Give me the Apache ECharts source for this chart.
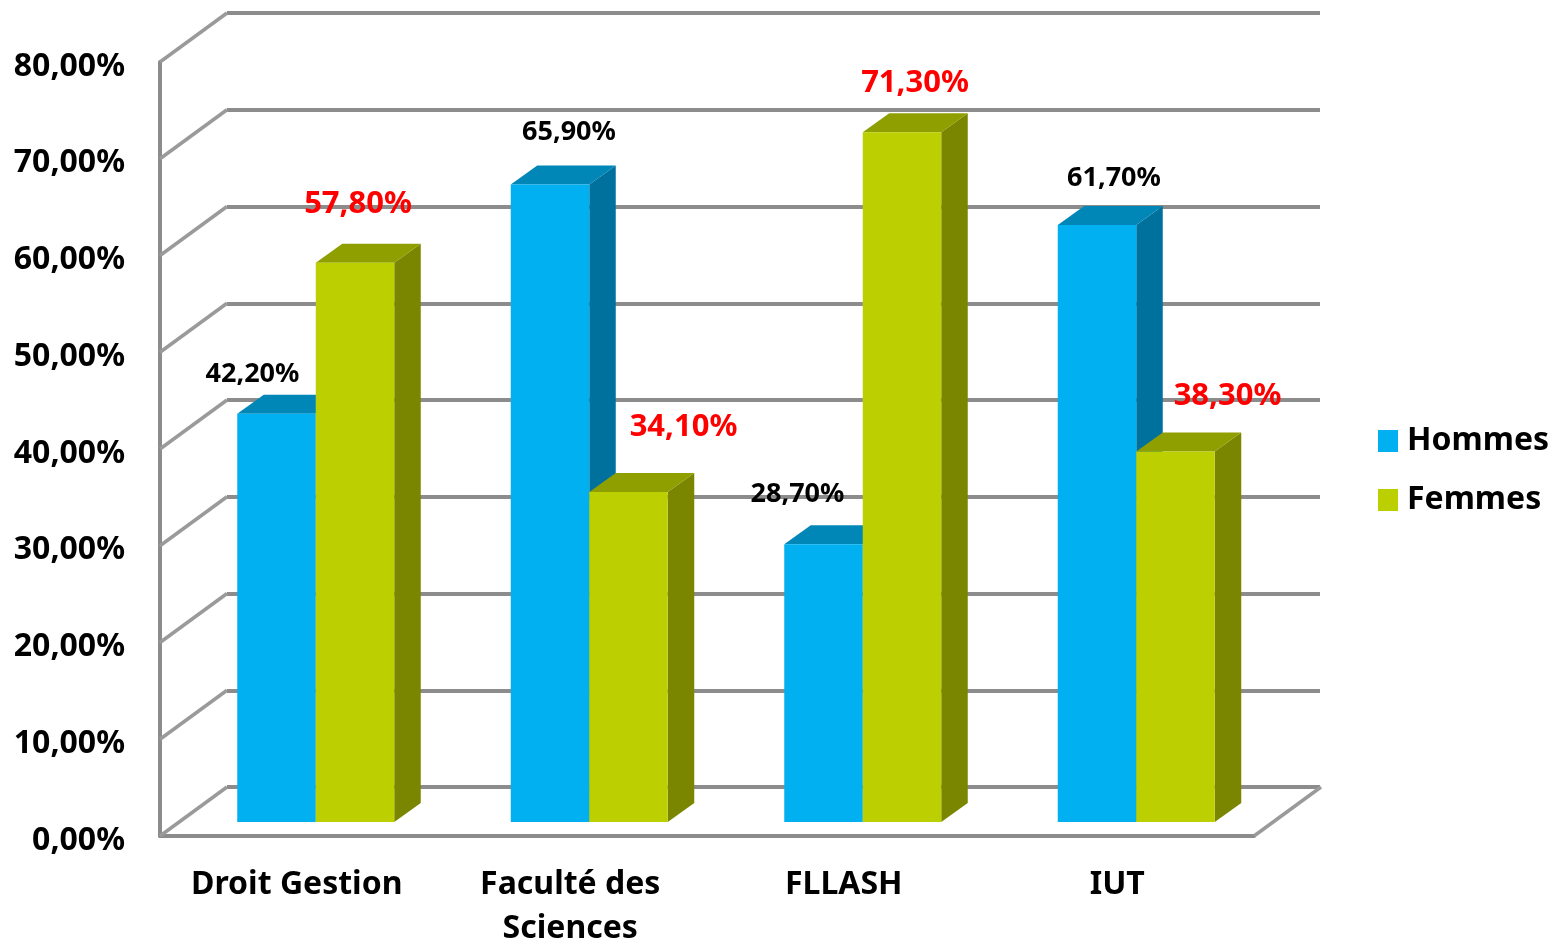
<!DOCTYPE html>
<html>
<head>
<meta charset="utf-8">
<style>
  html, body { margin: 0; padding: 0; background: #fff; }
  #chart { width: 1556px; height: 942px; }
</style>
<script src="https://cdn.jsdelivr.net/npm/echarts@6/dist/echarts.min.js"></script>
</head>
<body>
<div id="chart"></div>
<script>
const categories = ['Droit Gestion', 'Faculté des\nSciences', 'FLLASH', 'IUT'];
const hommes = [42.2, 65.9, 28.7, 61.7];
const femmes = [57.8, 34.1, 71.3, 38.3];
const yTicks = [0, 10, 20, 30, 40, 50, 60, 70, 80];

const FONT = '"Noto Sans", sans-serif';
const percent = v => v.toFixed(2).replace('.', ',') + '%';

// depth of the fake 3D box, the wall sits this far behind the front plane
const WALL_DX = 67, WALL_DY = -49;
const BAR_DX = 19, BAR_DY = -14;
const BAR_W = 78.5, DEPTH_DX = 26.5, DEPTH_DY = -19;

// label nudges from the default spot above each bar
const hommesLabelDx = [-24, 19, -26, 17];
const hommesLabelDy = [0, -13, -11, -8];
const femmesLabelDx = [3, 55, 13, 52];
const femmesLabelDy = [-2, -8, 8, 2];

function barSeries(name, values, side, colors, label) {
  return {
    name,
    type: 'custom',
    coordinateSystem: 'cartesian2d',
    xAxisIndex: 0,
    yAxisIndex: 0,
    z: 5,
    itemStyle: { color: colors.front },
    data: values.map((v, i) => [i, v]),
    renderItem(params, api) {
      const i = api.value(0);
      const top = api.coord([i, api.value(1)]);
      const base = api.coord([i, 0]);
      const x0 = top[0] + BAR_DX + (side < 0 ? -BAR_W : 0);
      const x1 = x0 + BAR_W;
      const y0 = top[1] + BAR_DY;
      const y1 = base[1] + BAR_DY;
      const poly = (points, fill) => ({
        type: 'polygon',
        shape: { points },
        style: { fill }
      });
      return {
        type: 'group',
        children: [
          poly([[x1, y0], [x1 + DEPTH_DX, y0 + DEPTH_DY], [x1 + DEPTH_DX, y1 + DEPTH_DY], [x1, y1]], colors.side),
          poly([[x0, y0], [x0 + DEPTH_DX, y0 + DEPTH_DY], [x1 + DEPTH_DX, y0 + DEPTH_DY], [x1, y0]], colors.top),
          { type: 'rect', shape: { x: x0, y: y0, width: BAR_W, height: y1 - y0 }, style: { fill: colors.front } },
          {
            type: 'text',
            z2: 20,
            style: {
              x: x0 + BAR_W / 2 + label.dx[i],
              y: y0 + label.dy[i] + label.gap,
              text: percent(api.value(1)),
              font: 'bold ' + label.size + 'px ' + FONT,
              fill: label.color,
              align: 'center',
              verticalAlign: 'middle'
            }
          }
        ]
      };
    }
  };
}

const chart = echarts.init(document.getElementById('chart'), null, { renderer: 'canvas' });

chart.setOption({
  animation: false,
  backgroundColor: '#fff',
  legend: {
    orient: 'vertical',
    left: 1373,
    top: 420,
    icon: 'rect',
    itemWidth: 20,
    itemHeight: 22,
    itemGap: 27,
    textStyle: { fontFamily: FONT, fontWeight: 'bold', fontSize: 32, color: '#000', padding: [0, 0, 0, 4] },
    data: ['Hommes', 'Femmes']
  },
  grid: [
    { left: 160, top: 62, width: 1094, height: 774, outerBoundsMode: 'none' },
    { left: 227, top: 13, width: 1093, height: 774, outerBoundsMode: 'none' }
  ],
  xAxis: [
    {
      type: 'category',
      gridIndex: 0,
      data: categories,
      axisTick: { show: false },
      axisLine: { lineStyle: { color: '#8c8c8c', width: 4 } },
      axisLabel: {
        margin: 27,
        fontFamily: FONT,
        fontWeight: 'bold',
        fontSize: 32,
        lineHeight: 44,
        color: '#000',
        interval: 0
      }
    },
    {
      type: 'category',
      gridIndex: 1,
      data: categories,
      show: false
    }
  ],
  yAxis: [
    {
      type: 'value',
      gridIndex: 0,
      min: 0,
      max: 80,
      interval: 10,
      axisLine: { show: true, lineStyle: { color: '#8c8c8c', width: 4 } },
      axisTick: { show: false },
      splitLine: { show: false },
      axisLabel: {
        margin: 35,
        verticalAlign: 'top',
        lineHeight: 9,
        fontFamily: FONT,
        fontWeight: 'bold',
        fontSize: 32,
        color: '#000',
        formatter: v => percent(v)
      }
    },
    {
      type: 'value',
      gridIndex: 1,
      min: 0,
      max: 80,
      interval: 10,
      axisLine: { show: false },
      axisTick: { show: false },
      axisLabel: { show: false },
      splitLine: { show: true, lineStyle: { color: '#8c8c8c', width: 4 } }
    }
  ],
  series: [
    {
      // slanted side wall lines, plus the floor edge on the right
      type: 'custom',
      coordinateSystem: 'cartesian2d',
      xAxisIndex: 0,
      yAxisIndex: 0,
      z: 1,
      silent: true,
      data: yTicks.map(v => [0, v]),
      renderItem(params, api) {
        const sys = params.coordSys;
        const y = api.coord([0, api.value(1)])[1];
        const line = (x) => ({
          type: 'line',
          shape: { x1: x, y1: y, x2: x + WALL_DX, y2: y + WALL_DY },
          style: { stroke: '#9a9a9a', lineWidth: 3.5 }
        });
        const children = [line(sys.x)];
        if (api.value(1) === 0) children.push(line(sys.x + sys.width));
        return { type: 'group', children };
      }
    },
    barSeries('Hommes', hommes, -1,
      { front: '#00B0F0', top: '#0087B8', side: '#00719C' },
      { dx: hommesLabelDx, dy: hommesLabelDy, gap: -39, size: 27, color: '#000' }),
    barSeries('Femmes', femmes, 1,
      { front: '#BCCF00', top: '#909F00', side: '#7B8600' },
      { dx: femmesLabelDx, dy: femmesLabelDy, gap: -57, size: 31, color: '#FF0000' })
  ]
});
</script>
</body>
</html>
